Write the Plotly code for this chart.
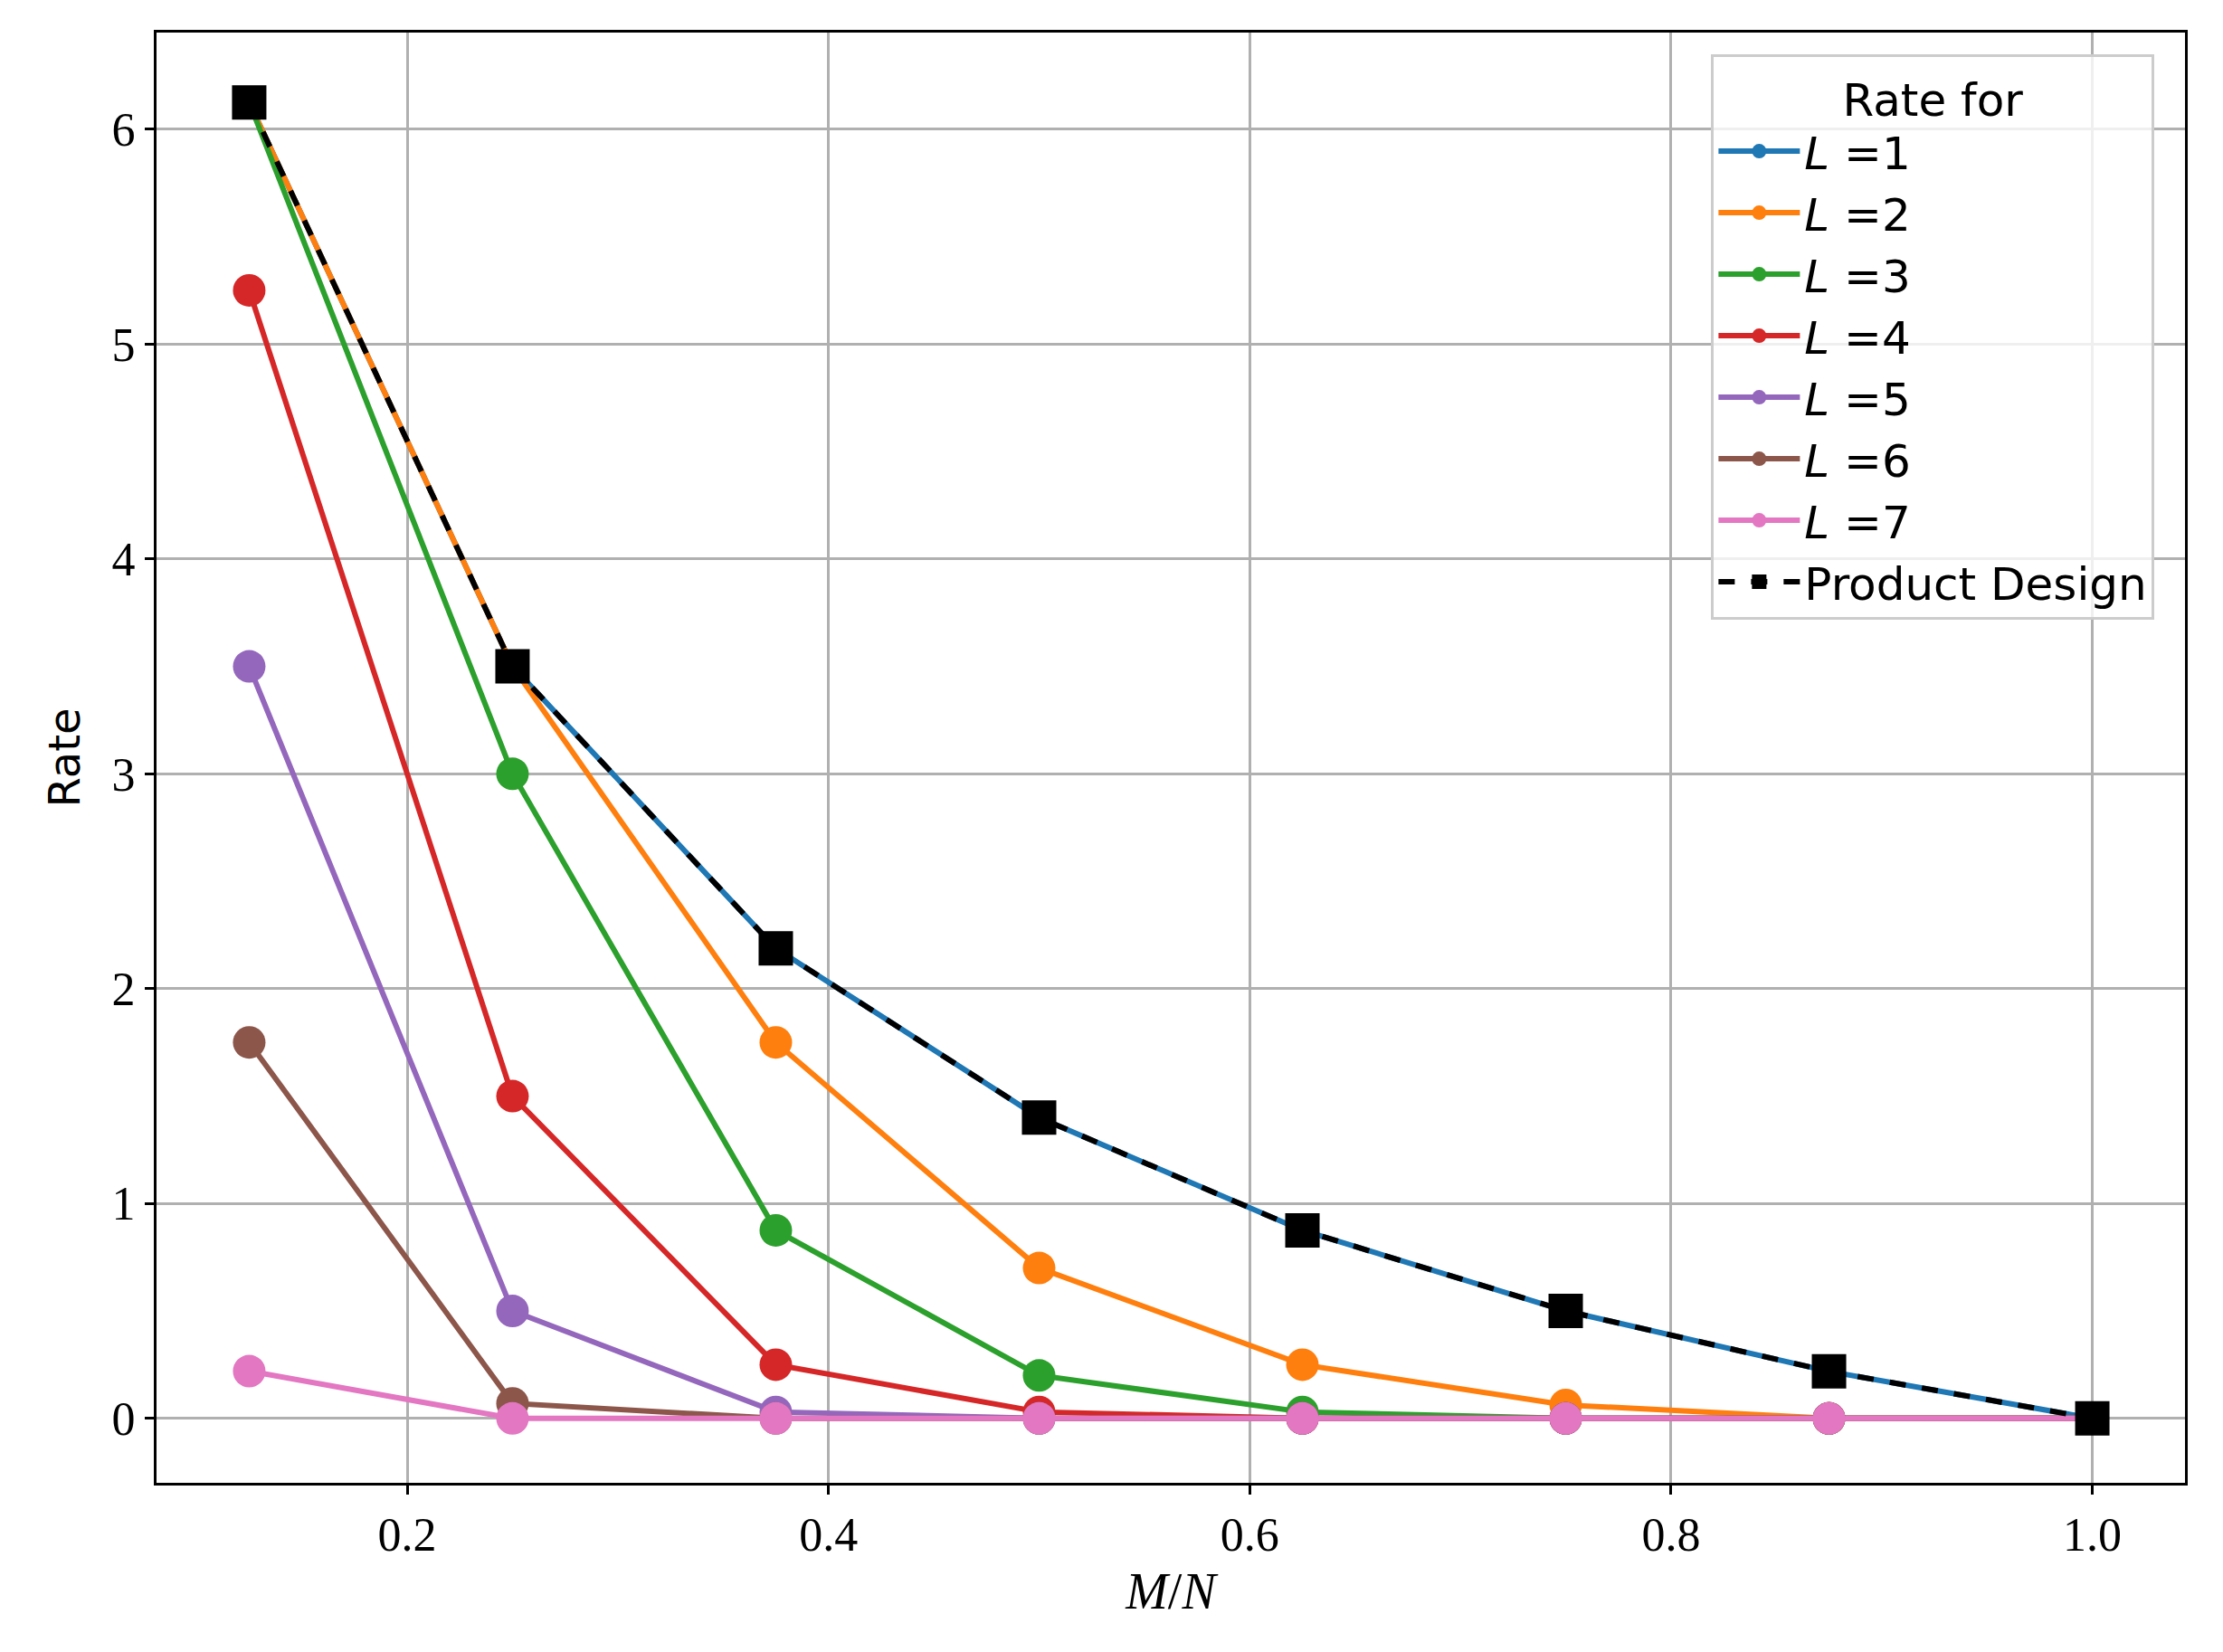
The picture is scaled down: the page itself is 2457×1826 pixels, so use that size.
import plotly.graph_objects as go

x = [0.125, 0.25, 0.375, 0.5, 0.625, 0.75, 0.875, 1.0]
L1 = [6.125, 3.5, 2.1875, 1.4, 0.875, 0.5, 0.21875, 0.0]
L2 = [6.125, 3.5, 1.75, 0.7, 0.25, 0.0625, 0.0, 0.0]
L3 = [6.125, 3.0, 0.875, 0.2, 0.03, 0.0, 0.0, 0.0]
L4 = [5.25, 1.5, 0.25, 0.03, 0.0, 0.0, 0.0, 0.0]
L5 = [3.5, 0.5, 0.03, 0.0, 0.0, 0.0, 0.0, 0.0]
L6 = [1.75, 0.07, 0.0, 0.0, 0.0, 0.0, 0.0, 0.0]
L7 = [0.22, 0.0, 0.0, 0.0, 0.0, 0.0, 0.0, 0.0]
product = [6.125, 3.5, 2.1875, 1.4, 0.875, 0.5, 0.21875, 0.0]

series = [L1, L2, L3, L4, L5, L6, L7]
colors = ["#1f77b4", "#ff7f0e", "#2ca02c", "#d62728", "#9467bd", "#8c564b", "#e377c2"]
names = ["<i>L</i> =1", "<i>L</i> =2", "<i>L</i> =3", "<i>L</i> =4", "<i>L</i> =5", "<i>L</i> =6", "<i>L</i> =7"]

fig = go.Figure()
for y, c, n in zip(series, colors, names):
    fig.add_trace(go.Scatter(x=x, y=y, name=n, mode="lines+markers",
                             line=dict(color=c, width=6),
                             marker=dict(color=c, size=36, symbol="circle")))
fig.add_trace(go.Scatter(x=x, y=product, name="Product Design", mode="lines+markers",
                         line=dict(color="black", width=6, dash="dash"),
                         marker=dict(color="black", size=38, symbol="square")))

serif = "Liberation Serif, DejaVu Serif"
axis_common = dict(showgrid=True, gridcolor="#b0b0b0", gridwidth=3, zeroline=False,
                   showline=True, linecolor="black", linewidth=3, mirror=True,
                   ticks="outside", ticklen=10, tickwidth=3, tickcolor="black",
                   tickfont=dict(family=serif, size=52, color="black"))
fig.update_xaxes(range=[0.081, 1.044], tickvals=[0.2, 0.4, 0.6, 0.8, 1.0],
                 ticktext=["0.2", "0.4", "0.6", "0.8", "1.0"],
                 title=dict(text="<i>M</i>/<i>N</i>", font=dict(family=serif, size=56, color="black"), standoff=15),
                 **axis_common)
fig.update_yaxes(range=[-0.3, 6.45], tickvals=[0, 1, 2, 3, 4, 5, 6],
                 title=dict(text="Rate", font=dict(family="DejaVu Sans", size=48, color="black"), standoff=20),
                 **axis_common)
fig.update_layout(
    width=2457, height=1826, paper_bgcolor="white", plot_bgcolor="white",
    margin=dict(l=165, r=50, t=28, b=195),
    legend=dict(x=0.985, y=0.985, xanchor="right", yanchor="top",
                bgcolor="rgba(255,255,255,0.8)", bordercolor="#cccccc", borderwidth=3,
                font=dict(family="DejaVu Sans", size=50, color="black"),
                title=dict(text="Rate for", side="top center", font=dict(family="DejaVu Sans", size=50)),
                itemwidth=90, tracegroupgap=0),
    showlegend=True,
)
fig.write_html("out.html")
